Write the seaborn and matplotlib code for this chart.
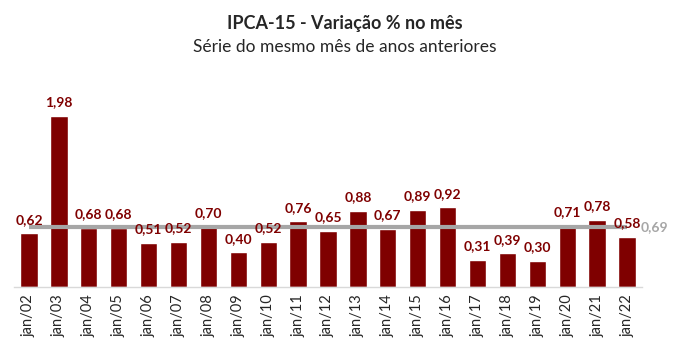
import matplotlib
matplotlib.use("Agg")
import matplotlib.pyplot as plt
import seaborn as sns
import numpy as np
import pandas as pd

# Data
anos = ["jan/02", "jan/03", "jan/04", "jan/05", "jan/06", "jan/07", "jan/08",
        "jan/09", "jan/10", "jan/11", "jan/12", "jan/13", "jan/14", "jan/15",
        "jan/16", "jan/17", "jan/18", "jan/19", "jan/20", "jan/21", "jan/22"]
variacao = [0.62, 1.98, 0.68, 0.68, 0.51, 0.52, 0.70, 0.40, 0.52, 0.76, 0.65,
            0.88, 0.67, 0.89, 0.92, 0.31, 0.39, 0.30, 0.71, 0.78, 0.58]
media = 0.69

df = pd.DataFrame({"ano": anos, "valor": variacao})

sns.set_style("white")
plt.rcParams['font.family'] = ['Lato', 'DejaVu Sans']

fig = plt.figure(figsize=(6.76, 3.55), dpi=100)
ax = fig.add_axes([14 / 676, 68 / 355, 628 / 676, 199 / 355])

sns.barplot(data=df, x="ano", y="valor", color="#7F0000", saturation=1,
            width=0.58, ax=ax)

# value labels (drawn above the average line)
labels = [f"{v:.2f}".replace(".", ",") for v in variacao]
ax.bar_label(ax.containers[0], labels=labels, padding=5.5, fontsize=10,
             fontweight="bold", color="#7F0000", zorder=4)

# average line
ax.hlines(media, 0, len(anos) - 1, color="#A6A6A6", linewidth=3, zorder=2.5)
ax.text(len(anos) - 1 + 0.45, media, f"{media:.2f}".replace(".", ","),
        color="#A6A6A6", fontsize=10, fontweight="bold", va="center",
        ha="left", clip_on=False)

ax.set_ylim(0, 2.3)
ax.set_xlim(-0.5, len(anos) - 0.5)
ax.set_yticks([])
ax.set_xlabel("")
ax.set_ylabel("")
for s in ["top", "right", "left"]:
    ax.spines[s].set_visible(False)
ax.spines["bottom"].set_color("#D9D9D9")
ax.spines["bottom"].set_linewidth(1)

ax.set_xticks(np.arange(len(anos)))
ax.set_xticklabels(anos, rotation=90, fontsize=10.5, color="#262626")
ax.tick_params(axis="x", which="major", length=0, pad=5)
ax.set_xticks(np.arange(len(anos) + 1) - 0.5, minor=True)
ax.tick_params(axis="x", which="minor", length=5, color="#D9D9D9", width=1)

fig.text(0.51, 0.935, "IPCA-15 - Variação % no mês", ha="center",
         va="center", fontsize=13, fontweight="bold")
fig.text(0.51, 0.868, "Série do mesmo mês de anos anteriores", ha="center",
         va="center", fontsize=12.5)

fig.savefig("out.png", dpi=100)
